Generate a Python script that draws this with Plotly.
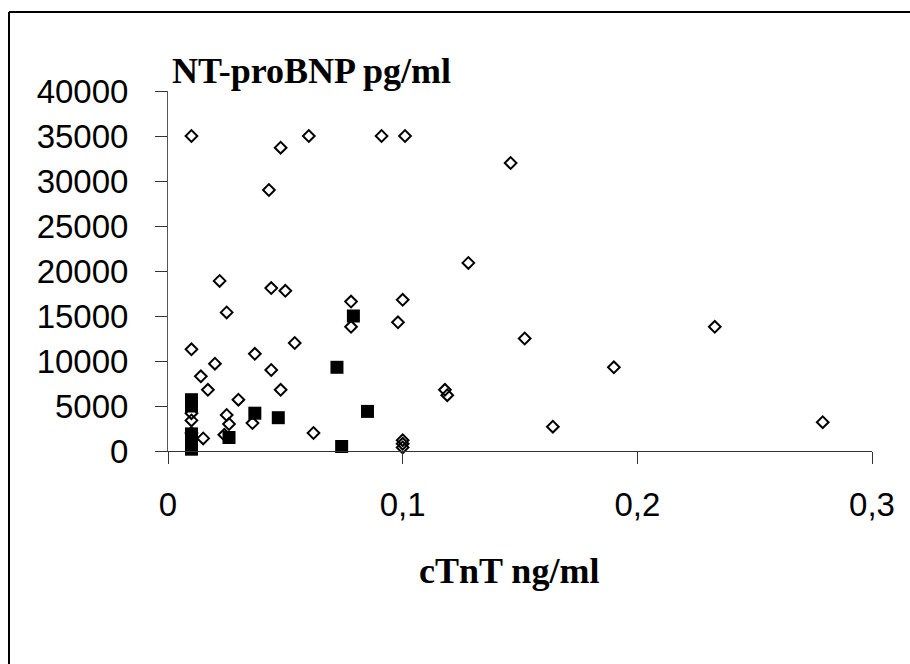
import plotly.graph_objects as go

# Open diamonds: (cTnT ng/ml, NT-proBNP pg/ml)
open_ctnt = [0.010, 0.048, 0.060, 0.091, 0.101, 0.043, 0.146, 0.128, 0.022, 0.025,
             0.044, 0.050, 0.078, 0.078, 0.100, 0.098, 0.152, 0.233, 0.010, 0.020,
             0.014, 0.017, 0.037, 0.044, 0.054, 0.048, 0.190, 0.118, 0.119, 0.030,
             0.025, 0.026, 0.036, 0.024, 0.015, 0.062, 0.164, 0.279, 0.010, 0.010,
             0.010, 0.100, 0.100, 0.100]
open_bnp = [35000, 33700, 35000, 35000, 35000, 29000, 32000, 20900, 18900, 15400,
            18100, 17800, 16600, 13800, 16800, 14300, 12500, 13800, 11300, 9700,
            8300, 6800, 10800, 9000, 12000, 6800, 9300, 6800, 6200, 5700,
            4000, 3000, 3100, 1800, 1400, 2000, 2700, 3200, 4200, 3400,
            2000, 1200, 800, 400]

# Filled squares
filled_ctnt = [0.010, 0.010, 0.010, 0.010, 0.010, 0.026, 0.037, 0.047, 0.072, 0.079, 0.085, 0.074]
filled_bnp = [5700, 5000, 1900, 1000, 200, 1500, 4200, 3700, 9300, 15000, 4400, 500]

x_tickvals = [0, 0.1, 0.2, 0.3]
x_ticktext = ["0", "0,1", "0,2", "0,3"]
y_tickvals = [0, 5000, 10000, 15000, 20000, 25000, 30000, 35000, 40000]

L, T, PW, PH = 168, 91, 704, 360
W, H = 910, 664


def px(xp):
    return (xp - L) / PW


def py(yp):
    return (T + PH - yp) / PH


fig = go.Figure()
fig.add_trace(go.Scatter(
    x=open_ctnt, y=open_bnp, mode="markers",
    marker=dict(symbol="diamond-open", size=9, color="black", line=dict(width=2, color="black")),
    showlegend=False, cliponaxis=False))
fig.add_trace(go.Scatter(
    x=filled_ctnt, y=filled_bnp, mode="markers",
    marker=dict(symbol="square", size=13, color="black", line=dict(width=0)),
    showlegend=False, cliponaxis=False))

tick_font = dict(family="Liberation Sans, Arial, sans-serif", size=33, color="black")
title_font = dict(family="Liberation Serif, Times New Roman, serif", size=36, color="black")

fig.update_layout(
    width=W, height=H,
    margin=dict(l=L, r=W - L - PW, t=T, b=H - T - PH, pad=0),
    paper_bgcolor="white", plot_bgcolor="white",
    xaxis=dict(range=[0, 0.3], tickvals=x_tickvals, ticktext=x_ticktext,
               showgrid=False, zeroline=False, showline=True, linecolor="#333", linewidth=1,
               ticks="outside", ticklen=12, tickwidth=1, tickcolor="#333",
               tickfont=tick_font, ticklabelstandoff=12),
    yaxis=dict(range=[0, 40000], tickvals=y_tickvals, tickformat="d",
               showgrid=False, zeroline=False, showline=True, linecolor="#555", linewidth=1,
               ticks="outside", ticklen=12, tickwidth=1, tickcolor="#333",
               tickfont=tick_font, ticklabelstandoff=20),
    annotations=[
        dict(text="<b>NT-proBNP pg/ml</b>", xref="paper", yref="paper",
             x=px(170), y=py(71), xanchor="left", yanchor="middle",
             showarrow=False, font=title_font),
        dict(text="<b>cTnT ng/ml</b>", xref="paper", yref="paper",
             x=px(509), y=py(571), xanchor="center", yanchor="middle",
             showarrow=False, font=title_font),
    ],
    shapes=[
        dict(type="line", xref="paper", yref="paper",
             x0=px(9), y0=py(12), x1=px(9), y1=py(664),
             line=dict(color="black", width=2)),
        dict(type="line", xref="paper", yref="paper",
             x0=px(9), y0=py(12), x1=px(910), y1=py(12),
             line=dict(color="black", width=2)),
    ],
)

fig.write_html(
    "out.html",
    config={"displayModeBar": False},
    post_script=("document.documentElement.style.overflow='hidden';"
                 "document.body.style.margin='0px';document.body.style.overflow='hidden';"),
)
